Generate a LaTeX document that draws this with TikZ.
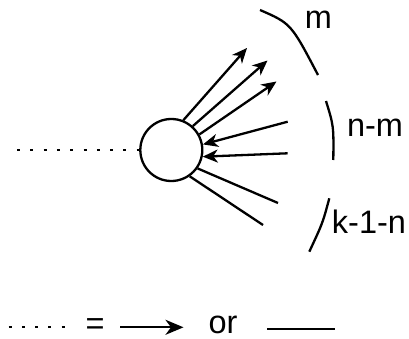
\documentclass[tikz,border=0pt]{standalone}
\usepackage{fontspec}
\setmainfont{Liberation Sans}
\usetikzlibrary{arrows.meta}
\begin{document}
\begin{tikzpicture}[x=1pt,y=-1pt,line width=2.3pt,
  lbl/.style={font=\fontsize{32.5}{34}\selectfont, anchor=base, inner sep=0pt},
  dotline/.style={dash pattern=on 3pt off 10.3pt},
  tipA/.style={-{Stealth[length=15pt,width=13pt,inset=4.5pt]}},
  tipB/.style={-{Stealth[length=18pt,width=15pt,inset=5.5pt]}},
]
\useasboundingbox (0,0) rectangle (409,339);
% vertex
\node[circle, draw, minimum size=62pt, inner sep=0pt] (c) at (171.3,150) {};
% external dotted leg
\coordinate (d0) at (17,150);
\draw[dotline] (d0) -- (c.west);
% outgoing arrows
\coordinate (o1) at (247,48);
\coordinate (o2) at (267.5,60.5);
\coordinate (o3) at (276.5,81.5);
\draw[tipA] (c.68) -- (o1);
\draw[tipA] (c.48) -- (o2);
\draw[tipA] (c.29) -- (o3);
% incoming arrows
\coordinate (i1) at (287.7,121.7);
\coordinate (i2) at (287.7,153.3);
\draw[tipA] (i1) -- (c.10);
\draw[tipA] (i2) -- (c.-12);
% plain legs
\coordinate (p1) at (278,203);
\coordinate (p2) at (263,225);
\draw (c.-35) -- (p1);
\draw (c.-55) -- (p2);
% braces
\coordinate (b1s) at (260,10);
\coordinate (b1e) at (318,75);
\draw (b1s) .. controls (291,23.5) .. (b1e);
\coordinate (b2s) at (326,101);
\coordinate (b2e) at (333.3,160);
\draw (b2s) .. controls (333.7,126) .. (b2e);
\coordinate (b3s) at (329.3,198.3);
\coordinate (b3e) at (309.3,251.7);
\draw (b3s) .. controls (322.7,223) .. (b3e);
% labels
\node[lbl] (lm) at (318.5,28.3) {m};
\node[lbl] (lnm) at (375,137) {n-m};
\node[lbl] (lk) at (369,233) {k-1-n};
% legend
\coordinate (l0) at (8.5,327);
\coordinate (l1) at (66,327);
\draw[dotline] (l0) -- (l1);
\node[lbl, anchor=center] (eq) at (95,327) {=};
\coordinate (a0) at (120,327.3);
\coordinate (a1) at (183.5,327.3);
\draw[tipB] (a0) -- (a1);
\node[lbl] (or) at (223,333.5) {or};
\coordinate (s0) at (267,329);
\coordinate (s1) at (335,329);
\draw (s0) -- (s1);
\end{tikzpicture}
\end{document}
